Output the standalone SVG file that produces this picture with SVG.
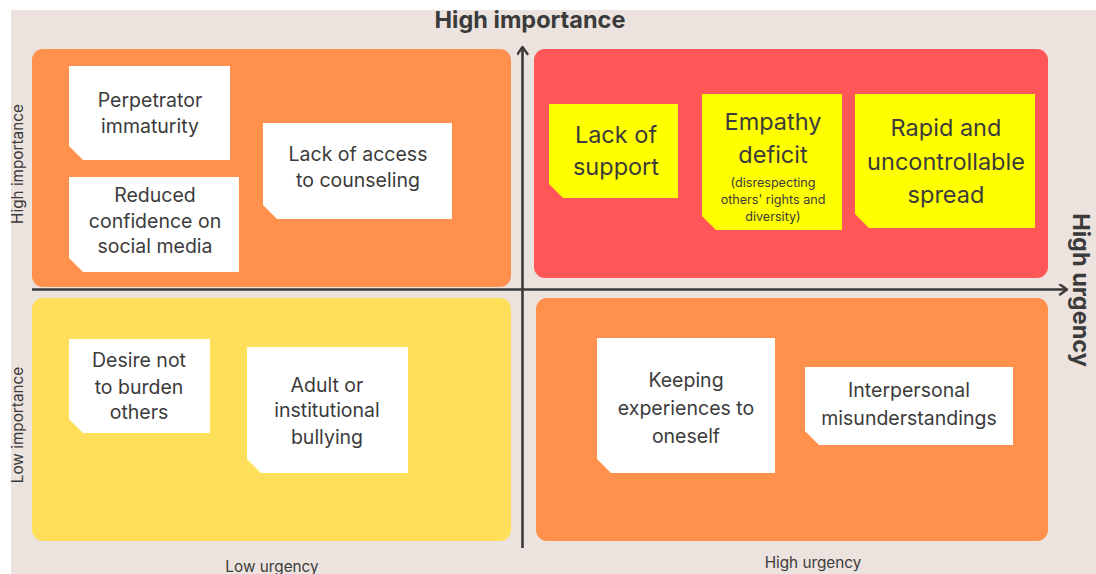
<svg xmlns="http://www.w3.org/2000/svg" width="1096" height="574" viewBox="0 0 1096 574">
  <style>
    .note-w { fill: #ffffff; }
    .note-y { fill: #ffff00; }
    .t { font-family: Inter, "Liberation Sans", sans-serif; fill: #3b3b3b; text-anchor: middle; }
    .t18 { font-size: 19.5px; }
    .t22 { font-size: 23.5px; }
    .t12 { font-size: 12.6px; }
    .axis-label { font-family: Inter, "Liberation Sans", sans-serif; fill: #3b3b3b; font-size: 15.3px; text-anchor: middle; }
    .axis-title { font-family: Inter, "Liberation Sans", sans-serif; fill: #3b3b3b; font-size: 23.5px; font-weight: 700; text-anchor: middle; }
    .axis { stroke: #3b3b3b; stroke-width: 2.6; fill: none; }
  </style>
  <defs>
    <marker id="chevron" viewBox="0 0 12 12" refX="10" refY="6" markerWidth="12" markerHeight="12" markerUnits="userSpaceOnUse" orient="auto">
      <path d="M3,1 L10,6 L3,11" stroke="#3b3b3b" stroke-width="2.4" fill="none" stroke-linecap="round" stroke-linejoin="round"/>
    </marker>
  </defs>

  <!-- page -->
  <rect x="0" y="0" width="1096" height="574" fill="#ffffff"/>
  <rect x="11" y="10" width="1085" height="564" fill="#ece3de"/>

  <!-- quadrants -->
  <g id="quadrants">
    <rect x="32" y="49" width="479" height="238" rx="11" fill="#ff914d"/>
    <rect x="534" y="49" width="514" height="229" rx="11" fill="#ff5757"/>
    <rect x="32" y="298" width="479" height="243" rx="11" fill="#ffde59"/>
    <rect x="536" y="298" width="512" height="243" rx="11" fill="#ff914d"/>
  </g>

  <!-- axes -->
  <g id="connectors">
    <line class="axis" x1="522.5" y1="548" x2="522.5" y2="47" marker-end="url(#chevron)"/>
    <line class="axis" x1="32" y1="289.5" x2="1067" y2="289.5" marker-end="url(#chevron)"/>
  </g>

  <!-- axis labels -->
  <text class="axis-title" x="530" y="28">High importance</text>
  <text class="axis-title" transform="translate(1073,290) rotate(90)">High urgency</text>
  <text class="axis-label" transform="translate(23,164) rotate(-90)">High importance</text>
  <text class="axis-label" transform="translate(23,425) rotate(-90)">Low importance</text>
  <text class="axis-label" x="272" y="572">Low urgency</text>
  <text class="axis-label" x="813" y="568">High urgency</text>

  <!-- high importance / low urgency -->
  <g id="perpetrator-immaturity">
    <polygon class="note-w" points="69,66 230,66 230,160 83,160 69,146"/>
    <text class="t t18" x="150" y="107">Perpetrator</text>
    <text class="t t18" x="150" y="133">immaturity</text>
  </g>
  <g id="reduced-confidence">
    <polygon class="note-w" points="69,177 239,177 239,272 83,272 69,258"/>
    <text class="t t18" x="155" y="202">Reduced</text>
    <text class="t t18" x="155" y="228">confidence on</text>
    <text class="t t18" x="155" y="253">social media</text>
  </g>
  <g id="lack-of-access">
    <polygon class="note-w" points="263,123 452,123 452,219 277,219 263,205"/>
    <text class="t t18" x="358" y="161">Lack of access</text>
    <text class="t t18" x="358" y="187">to counseling</text>
  </g>

  <!-- high importance / high urgency -->
  <g id="lack-of-support">
    <polygon class="note-y" points="549,104 678,104 678,198 563,198 549,184"/>
    <text class="t t22" x="616" y="143">Lack of</text>
    <text class="t t22" x="616" y="175">support</text>
  </g>
  <g id="empathy-deficit">
    <polygon class="note-y" points="702,94 842,94 842,230 716,230 702,216"/>
    <text class="t t22" x="773" y="130">Empathy</text>
    <text class="t t22" x="773" y="163">deficit</text>
    <text class="t t12" x="773" y="187">(disrespecting</text>
    <text class="t t12" x="773" y="204">others' rights and</text>
    <text class="t t12" x="773" y="221">diversity)</text>
  </g>
  <g id="rapid-spread">
    <polygon class="note-y" points="855,94 1035,94 1035,228 869,228 855,214"/>
    <text class="t t22" x="946" y="136">Rapid and</text>
    <text class="t t22" x="946" y="170">uncontrollable</text>
    <text class="t t22" x="946" y="203">spread</text>
  </g>

  <!-- low importance / low urgency -->
  <g id="desire-not-to-burden">
    <polygon class="note-w" points="69,339 210,339 210,433 83,433 69,419"/>
    <text class="t t18" x="139" y="367">Desire not</text>
    <text class="t t18" x="139" y="394">to burden</text>
    <text class="t t18" x="139" y="419">others</text>
  </g>
  <g id="adult-bullying">
    <polygon class="note-w" points="247,347 408,347 408,473 261,473 247,459"/>
    <text class="t t18" x="327" y="392">Adult or</text>
    <text class="t t18" x="327" y="417">institutional</text>
    <text class="t t18" x="327" y="444">bullying</text>
  </g>

  <!-- low importance / high urgency -->
  <g id="keeping-experiences">
    <polygon class="note-w" points="597,338 775,338 775,473 611,473 597,459"/>
    <text class="t t18" x="686" y="387">Keeping</text>
    <text class="t t18" x="686" y="415">experiences to</text>
    <text class="t t18" x="686" y="443">oneself</text>
  </g>
  <g id="interpersonal-misunderstandings">
    <polygon class="note-w" points="805,367 1013,367 1013,445 819,445 805,431"/>
    <text class="t t18" x="909" y="397">Interpersonal</text>
    <text class="t t18" x="909" y="425">misunderstandings</text>
  </g>
</svg>
